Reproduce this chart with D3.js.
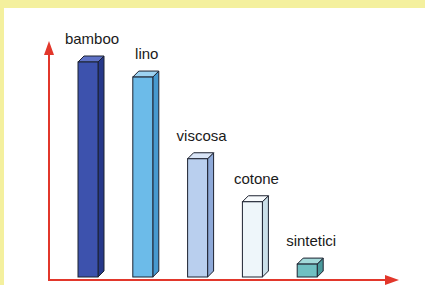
<!DOCTYPE html>
<html lang="it">
<head>
<meta charset="UTF-8">
<title>Fibre</title>
<script src="https://cdn.jsdelivr.net/npm/d3@7"></script>
<style>
  html, body { margin: 0; padding: 0; background: #f4f09e; }
  svg { display: block; }
</style>
</head>
<body>
<script>
// dati
var categorie = ["bamboo", "lino", "viscosa", "cotone", "sintetici"];
var valori = [100, 93, 55, 35, 6];
var coloriFronte = ["#3d52ad", "#6cbbe9", "#b9cfee", "#eef6fa", "#70c0c2"];
var coloriLato = ["#26388a", "#4699cf", "#8ea9d8", "#cadfe8", "#4a9a9c"];
var coloriSopra = ["#5f72c6", "#9dd3f2", "#d9e5f7", "#f8fbfd", "#a3dada"];

var W = 425, H = 285;
var prof = 6; // profondità 3D

var svg = d3.select("body").append("svg")
  .attr("width", W).attr("height", H);

// sfondo giallo e pannello bianco
svg.append("rect").attr("width", W).attr("height", H).attr("fill", "#f4f09e");
svg.append("rect").attr("x", 4).attr("y", 8).attr("width", W).attr("height", H)
  .attr("fill", "#ffffff");

var x = d3.scaleBand()
  .domain(categorie)
  .range([78, 317.2])
  .paddingInner(0.635)
  .paddingOuter(0);

var y = d3.scaleLinear()
  .domain([0, 100])
  .range([277, 62]);

// assi
var rosso = "#e2372b";
svg.append("line").attr("x1", 49).attr("y1", 280).attr("x2", 49).attr("y2", 52)
  .attr("stroke", rosso).attr("stroke-width", 2);
svg.append("line").attr("x1", 48).attr("y1", 280).attr("x2", 388).attr("y2", 280)
  .attr("stroke", rosso).attr("stroke-width", 2);
svg.append("path").attr("d", "M49,41 L44,55 L54,55 Z").attr("fill", rosso);
svg.append("path").attr("d", "M399,280 L385,275 L385,285 Z").attr("fill", rosso);

var dati = categorie.map(function (c, i) { return { nome: c, v: valori[i], i: i }; });

var barre = svg.selectAll("g.barra").data(dati).enter().append("g").attr("class", "barra");

// faccia laterale
barre.append("path")
  .attr("d", function (d) {
    var x0 = x(d.nome) + x.bandwidth(), yt = y(d.v), yb = y(0);
    return "M" + x0 + "," + yt + " L" + (x0 + prof) + "," + (yt - prof) +
      " L" + (x0 + prof) + "," + (yb - prof) + " L" + x0 + "," + yb + " Z";
  })
  .attr("fill", function (d) { return coloriLato[d.i]; })
  .attr("stroke", "#1d2230").attr("stroke-width", 1).attr("stroke-linejoin", "round");

// faccia superiore
barre.append("path")
  .attr("d", function (d) {
    var x0 = x(d.nome), x1 = x0 + x.bandwidth(), yt = y(d.v);
    return "M" + x0 + "," + yt + " L" + (x0 + prof) + "," + (yt - prof) +
      " L" + (x1 + prof) + "," + (yt - prof) + " L" + x1 + "," + yt + " Z";
  })
  .attr("fill", function (d) { return coloriSopra[d.i]; })
  .attr("stroke", "#1d2230").attr("stroke-width", 1).attr("stroke-linejoin", "round");

// faccia frontale
barre.append("rect")
  .attr("x", function (d) { return x(d.nome); })
  .attr("y", function (d) { return y(d.v); })
  .attr("width", x.bandwidth())
  .attr("height", function (d) { return y(0) - y(d.v); })
  .attr("fill", function (d) { return coloriFronte[d.i]; })
  .attr("stroke", "#1d2230").attr("stroke-width", 1);

// etichette
barre.append("text")
  .attr("x", function (d) { return x(d.nome) + (x.bandwidth() + prof) / 2 + 1; })
  .attr("y", function (d) { return y(d.v) - prof - 12; })
  .attr("text-anchor", "middle")
  .attr("font-family", "Liberation Sans, Arial, sans-serif")
  .attr("font-size", "15px")
  .attr("fill", "#1a1a1a")
  .text(function (d) { return d.nome; });
</script>
</body>
</html>
